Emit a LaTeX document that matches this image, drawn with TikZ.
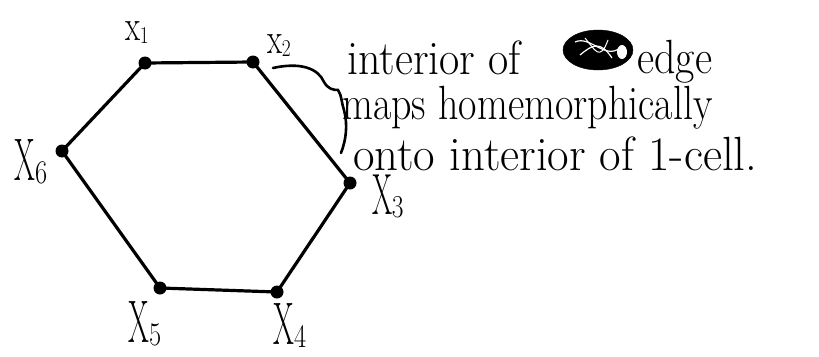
\documentclass[tikz,border=0pt]{standalone}
\usetikzlibrary{shapes.geometric}
% #1 size, #2 horizontal squeeze, #3 letter, #4 subscript
\newcommand{\vlab}[4]{{\fontsize{#1}{#1}\selectfont\scalebox{#2}[1]{#3}}\kern-0.05em\raisebox{-0.3em}{\fontsize{0.55\dimexpr #1pt\relax}{1em}\selectfont\scalebox{0.8}[1]{#4}}}
\tikzset{
  vdot/.style={circle,fill=black,inner sep=0pt,minimum size=13pt},
  edgeline/.style={line width=3.2pt,line join=round,line cap=round},
  bracel/.style={line width=2.6pt,line cap=round},
  lbl/.style={inner sep=0pt},
  txt/.style={inner sep=0pt,anchor=base west,font=\fontsize{40}{47}\selectfont},
}
\begin{document}
\begin{tikzpicture}[x=1pt,y=-1pt]
\useasboundingbox (0,0) rectangle (819,356);
% vertices
\node[vdot] (v1) at (145,63) {};
\node[vdot] (v2) at (253,62) {};
\node[vdot] (v3) at (350,183) {};
\node[vdot] (v4) at (277,292) {};
\node[vdot] (v5) at (160,288) {};
\node[vdot] (v6) at (62,151) {};
\draw[edgeline] (v1.center) -- (v2.center) -- (v3.center) -- (v4.center) -- (v5.center) -- (v6.center) -- cycle;
% labels
\node[lbl] (l1) at (137,33) {\vlab{44}{0.7}{x}{1}};
\node[lbl] (l2) at (279,46) {\vlab{44}{0.7}{x}{2}};
\node[lbl] (l3) at (388,196) {\vlab{58}{0.5}{X}{3}};
\node[lbl] (l4) at (290,326) {\vlab{60}{0.5}{X}{4}};
\node[lbl] (l5) at (145,324) {\vlab{60}{0.5}{X}{5}};
\node[lbl] (l6) at (31,162) {\vlab{60}{0.5}{X}{6}};
% brace
\coordinate (b1) at (273,68);
\coordinate (b2) at (341,153);
\draw[bracel] (b1) .. controls (300,62) and (318,68) .. (324,82)
  .. controls (328,89) and (333,90) .. (338,90)
  .. controls (342,96) and (341,101) .. (344,110)
  .. controls (348,125) and (346,140) .. (b2);
% text
\node[txt] (t1) at (347,74) {\scalebox{1.1}[1.2]{interior of}};
\node[fill=black,ellipse,minimum width=70pt,minimum height=40pt,inner sep=0pt,draw=black] (scr) at (598,50) {};
\draw[white,line width=1.2pt] (575,42) .. controls (590,35) and (605,60) .. (620,48);
\draw[white,line width=1.2pt] (580,55) .. controls (592,45) and (600,40) .. (612,58);
\draw[white,line width=1pt] (585,38) .. controls (595,50) and (600,62) .. (608,40);
\fill[white] (622,52) ellipse (5pt and 7pt);
\node[txt] (t2) at (637,73) {\scalebox{1.05}[1.2]{edge}};
\node[txt] (t3) at (342,119) {\scalebox{1}[1.2]{maps homemorphically}};
\node[txt] (t4) at (353,170) {\scalebox{1.17}[1.2]{onto interior of 1-cell.}};
\end{tikzpicture}
\end{document}
